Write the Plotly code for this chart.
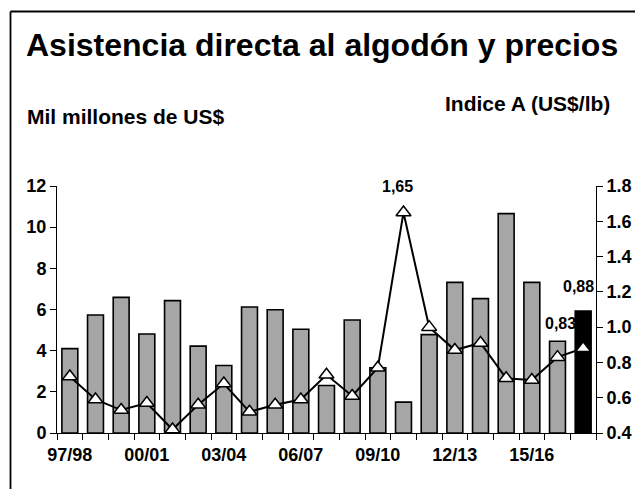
import plotly.graph_objects as go

seasons = ["97/98", "98/99", "99/00", "00/01", "01/02", "02/03", "03/04", "04/05",
           "05/06", "06/07", "07/08", "08/09", "09/10", "10/11", "11/12", "12/13",
           "13/14", "14/15", "15/16", "16/17", "17/18"]
assistance = [4.1, 5.73, 6.59, 4.81, 6.43, 4.22, 3.28, 6.12, 5.99, 5.04, 2.31,
              5.49, 3.17, 1.50, 4.78, 7.32, 6.53, 10.66, 7.32, 4.46, 5.93]
index_a = [0.72, 0.59, 0.53, 0.57, 0.42, 0.56, 0.68, 0.52, 0.56, 0.59, 0.73,
           0.61, 0.77, 1.65, 1.00, 0.87, 0.91, 0.71, 0.70, 0.83, 0.88]
shown_labels = ["97/98", "00/01", "03/04", "06/07", "09/10", "12/13", "15/16"]
left_ticks = [0, 2, 4, 6, 8, 10, 12]
right_ticks = [0.4, 0.6, 0.8, 1.0, 1.2, 1.4, 1.6, 1.8]

bar_colors = ["#A6A6A6"] * (len(seasons) - 1) + ["#000000"]

FONT = "Liberation Sans, Arial, sans-serif"

# page offset (body margin) compensation
OFF = 8
PAGE_W, PAGE_H = 643, 489
W, H = PAGE_W - OFF, PAGE_H - OFF
# plot area in page pixels
PX0, PX1, PY0, PY1 = 57, 596, 186, 433
L, R = PX0 - OFF, W - (PX1 - OFF)
T, B = PY0 - OFF, H - (PY1 - OFF)
pw, ph = W - L - R, H - T - B

def px(pix):
    return (pix - PX0) / pw

def py(pix):
    return (PY1 - pix) / ph

fig = go.Figure()
fig.add_trace(go.Bar(
    x=seasons, y=assistance,
    marker=dict(color=bar_colors, line=dict(color="black", width=1.6)),
    width=0.62, yaxis="y", showlegend=False, hoverinfo="skip"))
fig.add_trace(go.Scatter(
    x=seasons, y=index_a, yaxis="y2", mode="lines+markers",
    line=dict(color="black", width=2),
    marker=dict(symbol="triangle-up", size=13, color="white",
                line=dict(color="black", width=1.5)),
    showlegend=False, hoverinfo="skip"))

def fmt(v):
    return f"{v:.2f}".replace(".", ",")

annotations = []
for i, ys, xs in [(13, 26, -6), (19, 34, 3), (20, 62, -5)]:
    annotations.append(dict(
        x=seasons[i], y=index_a[i], xref="x", yref="y2",
        text=fmt(index_a[i]), showarrow=False, yshift=ys, xshift=xs,
        font=dict(family=FONT, size=16, color="black", weight="bold")))

annotations += [
    dict(x=px(322), y=py(45), xref="paper", yref="paper",
         text="<b>Asistencia directa al algodón y precios</b>",
         xanchor="center", yanchor="middle",
         showarrow=False, font=dict(family=FONT, size=32, color="black")),
    dict(x=px(25), y=py(117), xref="paper", yref="paper",
         text="<b>Mil millones de US$</b>", xanchor="left", yanchor="middle",
         showarrow=False, font=dict(family=FONT, size=21, color="black")),
    dict(x=px(443), y=py(103), xref="paper", yref="paper",
         text="<b>Indice A (US$/lb)</b>", xanchor="left", yanchor="middle",
         showarrow=False, font=dict(family=FONT, size=21, color="black")),
]

frame = dict(color="black", width=1.8)
fig.update_layout(
    width=W, height=H, autosize=False,
    margin=dict(l=L, r=R, t=T, b=B, autoexpand=False),
    paper_bgcolor="white", plot_bgcolor="white",
    font=dict(family=FONT, size=18, color="black"),
    xaxis=dict(
        type="category", tickmode="array", tickvals=seasons,
        ticktext=[s if s in shown_labels else "" for s in seasons],
        tickson="boundaries", ticks="outside", ticklen=6, tickcolor="black",
        tickangle=0, automargin=False, ticklabelstandoff=5,
        showline=True, linecolor="black", linewidth=1, showgrid=False,
        tickfont=dict(family=FONT, size=18, color="black", weight="bold"),
        range=[-0.5, len(seasons) - 0.5],
    ),
    yaxis=dict(
        range=[0, 12], tickvals=left_ticks, ticks="outside", ticklen=6, tickcolor="black",
        showline=True, linecolor="black", linewidth=1, showgrid=False, zeroline=False,
        automargin=False,
        tickfont=dict(family=FONT, size=18, color="black", weight="bold"),
    ),
    yaxis2=dict(
        range=[0.4, 1.8], tickvals=right_ticks, tickformat=".1f", overlaying="y",
        side="right", ticks="outside", ticklen=6, tickcolor="black",
        showline=True, linecolor="black", linewidth=1, showgrid=False, zeroline=False,
        automargin=False,
        tickfont=dict(family=FONT, size=18, color="black", weight="bold"),
    ),
    annotations=annotations,
    shapes=[
        dict(type="line", xref="paper", yref="paper",
             x0=px(10.5), x1=px(660), y0=py(11.5), y1=py(11.5), line=frame),
        dict(type="line", xref="paper", yref="paper",
             x0=px(10.5), x1=px(10.5), y0=py(11.5), y1=py(520), line=frame),
    ],
)

fig.write_html("out.html")
